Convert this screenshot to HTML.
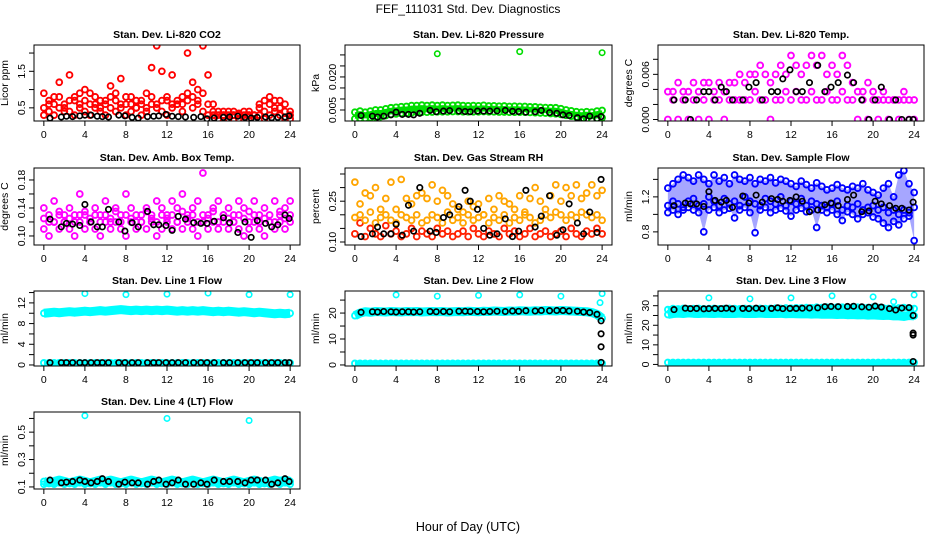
<!DOCTYPE html>
<html><head><meta charset="utf-8"><style>
html,body{margin:0;padding:0;background:#fff}
svg{display:block;font-family:"Liberation Sans",sans-serif}
</style></head><body>
<svg id="c" width="936" height="540" viewBox="0 0 936 540">
<text x="468" y="13" text-anchor="middle" font-size="12">FEF_111031  Std. Dev. Diagnostics</text>
<text x="468" y="531" text-anchor="middle" font-size="12.5">Hour of Day (UTC)</text>
</svg>
<script>
const hours=[0,0.5,1,1.5,2,2.5,3,3.5,4,4.5,5,5.5,6,6.5,7,7.5,8,8.5,9,9.5,10,10.5,11,11.5,12,12.5,13,13.5,14,14.5,15,15.5,16,16.5,17,17.5,18,18.5,19,19.5,20,20.5,21,21.5,22,22.5,23,23.5,24];
const blackHours=[0.6,1.7,2.2,2.8,3.5,4.0,4.6,5.2,5.7,6.3,7.3,7.9,8.6,9.2,10.1,10.7,11.2,11.9,12.5,13.1,13.8,14.6,15.3,15.9,16.6,17.5,18.1,18.9,19.6,20.2,20.8,21.6,22.2,22.8,23.5,23.9];
const xTicks=[0,4,8,12,16,20,24];

const co2A=[0.9,0.6,0.8,1.2,0.5,1.4,0.7,0.9,1.0,0.6,0.8,0.5,0.7,1.1,0.9,1.3,0.6,0.8,0.5,0.7,0.9,1.6,2.2,1.5,0.7,1.4,0.6,0.8,2.0,1.2,1.0,2.2,1.4,0.6,0.4,0.3,0.4,0.3,0.3,0.4,0.3,0.3,0.6,0.7,0.8,0.5,0.7,0.6,0.4];
const co2B=[0.3,0.4,0.3,0.5,0.6,0.4,0.3,0.5,0.4,0.3,0.6,0.4,0.3,0.5,0.4,0.6,0.3,0.4,0.5,0.3,0.4,0.6,0.5,0.4,0.3,0.5,0.6,0.4,0.7,0.5,0.6,0.4,0.3,0.3,0.2,0.3,0.2,0.3,0.2,0.2,0.3,0.2,0.3,0.2,0.3,0.4,0.3,0.2,0.2];
const co2C=[0.5,0.7,0.6,0.8,0.4,0.7,0.8,0.6,0.7,0.9,0.5,0.7,0.6,0.8,0.7,0.5,0.8,0.6,0.7,0.6,0.5,0.8,0.6,0.7,0.8,0.6,0.7,0.6,0.9,0.8,0.7,0.9,0.6,0.4,0.3,0.4,0.3,0.4,0.35,0.3,0.4,0.3,0.5,0.4,0.6,0.7,0.5,0.4,0.3];
const co2Black=[0.22,0.25,0.27,0.26,0.28,0.3,0.3,0.27,0.26,0.25,0.3,0.28,0.24,0.22,0.26,0.27,0.28,0.32,0.27,0.26,0.25,0.24,0.26,0.2,0.22,0.24,0.25,0.27,0.24,0.22,0.24,0.25,0.23,0.24,0.25,0.28];

const presA=[0.004,0.0045,0.004,0.0045,0.005,0.005,0.0055,0.006,0.0062,0.0065,0.0066,0.007,0.007,0.0072,0.007,0.0072,0.007,0.0072,0.007,0.0071,0.0072,0.007,0.0069,0.007,0.0069,0.0071,0.0068,0.0069,0.0067,0.0068,0.0066,0.0067,0.0066,0.0066,0.0064,0.0064,0.0062,0.0061,0.006,0.006,0.0056,0.005,0.0046,0.0042,0.004,0.0042,0.004,0.0045,0.0048];
const presB=[0.001,0.0012,0.0012,0.0015,0.0018,0.002,0.0025,0.003,0.0032,0.0035,0.0035,0.0038,0.004,0.004,0.004,0.0041,0.0042,0.0042,0.0042,0.0043,0.0043,0.0042,0.0042,0.0042,0.0042,0.0043,0.0042,0.0042,0.0041,0.0041,0.004,0.004,0.004,0.004,0.0039,0.0038,0.0037,0.0036,0.0034,0.0033,0.003,0.0026,0.0022,0.0018,0.0012,0.001,0.0008,0.0012,0.0015];
const presOutHours=[8,16,24];
const presOut=[0.0305,0.0315,0.031];
const presBlack=[0.0025,0.0022,0.0018,0.0022,0.0028,0.004,0.003,0.003,0.0028,0.0035,0.0048,0.0042,0.0045,0.0047,0.0045,0.0043,0.0042,0.0045,0.0045,0.0045,0.0046,0.0048,0.0044,0.0043,0.004,0.0042,0.0048,0.0038,0.0035,0.0028,0.0025,0.0015,0.001,0.0022,0.001,0.002];

const tempA=[0.0037,0.0037,0.0049,0.0037,0.0037,0.0049,0.0037,0.0049,0.0049,0.0037,0.0049,0.0037,0.0049,0.0049,0.006,0.0049,0.006,0.006,0.0072,0.006,0.0049,0.006,0.0072,0.006,0.0085,0.0072,0.006,0.0072,0.0085,0.0072,0.0085,0.006,0.0072,0.006,0.0085,0.0072,0.0049,0.0037,0.0037,0.0049,0.0037,0.0026,0.0037,0.0026,0.0026,0.0026,0.0037,0.0026,0.0026];
const tempB=[0,0.0026,0,0.0026,0,0.0026,0,0.0026,0,0.0026,0.0026,0,0.0026,0.0026,0.0026,0.0026,0.0026,0.0037,0.0026,0.0026,0,0.0026,0.0026,0.0037,0.0026,0.0037,0.0026,0.0026,0.0037,0.0026,0.0026,0.0037,0.0026,0.0026,0.0037,0.0026,0.0026,0,0.0026,0,0.0026,0,0.0026,0,0.0026,0,0.0026,0,0];
const tempBlack=[0.0026,0.0026,0,0.0026,0.0037,0.0037,0.0026,0.0043,0.0037,0.0026,0.0026,0.0043,0.0049,0.0026,0.0037,0.0037,0.0054,0.0066,0.0037,0.0037,0.0049,0.0072,0.0037,0.0043,0.0049,0.0059,0.0049,0.0026,0,0.0026,0.0043,0,0.0026,0,0,0];

const ambA=[0.14,0.12,0.15,0.13,0.12,0.14,0.13,0.16,0.13,0.12,0.14,0.13,0.15,0.12,0.14,0.13,0.16,0.14,0.13,0.12,0.14,0.13,0.15,0.14,0.13,0.15,0.14,0.16,0.13,0.14,0.15,0.19,0.13,0.14,0.15,0.13,0.14,0.13,0.15,0.14,0.12,0.15,0.13,0.14,0.12,0.15,0.13,0.14,0.15];
const ambB=[0.11,0.1,0.12,0.11,0.12,0.11,0.1,0.12,0.11,0.12,0.11,0.1,0.12,0.11,0.12,0.11,0.1,0.12,0.11,0.12,0.11,0.12,0.1,0.11,0.12,0.11,0.12,0.11,0.12,0.11,0.1,0.12,0.11,0.12,0.11,0.12,0.11,0.12,0.11,0.1,0.11,0.12,0.11,0.1,0.12,0.11,0.12,0.11,0.12];
const ambC=[0.125,0.13,0.12,0.135,0.13,0.125,0.12,0.13,0.135,0.125,0.13,0.12,0.13,0.125,0.135,0.12,0.13,0.125,0.12,0.13,0.135,0.125,0.12,0.13,0.125,0.13,0.12,0.135,0.125,0.13,0.12,0.13,0.125,0.135,0.12,0.13,0.125,0.12,0.13,0.125,0.135,0.13,0.12,0.125,0.13,0.12,0.135,0.125,0.13];
const ambBlack=[0.124,0.113,0.118,0.117,0.115,0.145,0.12,0.113,0.113,0.138,0.12,0.107,0.119,0.113,0.135,0.116,0.116,0.115,0.108,0.128,0.124,0.119,0.118,0.118,0.121,0.126,0.119,0.105,0.12,0.098,0.122,0.118,0.113,0.116,0.13,0.125];

const rhA=[0.32,0.24,0.28,0.27,0.3,0.22,0.26,0.32,0.22,0.33,0.26,0.24,0.27,0.28,0.26,0.31,0.25,0.29,0.27,0.24,0.22,0.21,0.25,0.23,0.24,0.2,0.26,0.22,0.27,0.25,0.24,0.22,0.27,0.21,0.26,0.3,0.25,0.22,0.27,0.31,0.25,0.3,0.27,0.31,0.26,0.28,0.31,0.27,0.29];
const rhB=[0.13,0.17,0.12,0.15,0.13,0.12,0.16,0.13,0.14,0.12,0.13,0.15,0.12,0.14,0.13,0.12,0.15,0.13,0.14,0.12,0.13,0.14,0.12,0.15,0.13,0.12,0.14,0.13,0.12,0.15,0.13,0.14,0.12,0.13,0.15,0.12,0.13,0.14,0.12,0.13,0.14,0.12,0.15,0.13,0.12,0.14,0.13,0.15,0.13];
const rhC=[0.19,0.2,0.18,0.21,0.17,0.19,0.2,0.18,0.17,0.2,0.19,0.18,0.2,0.17,0.18,0.2,0.19,0.17,0.21,0.18,0.19,0.17,0.2,0.18,0.19,0.2,0.17,0.19,0.18,0.2,0.17,0.19,0.18,0.2,0.19,0.17,0.18,0.2,0.19,0.21,0.2,0.18,0.2,0.19,0.21,0.2,0.19,0.2,0.18];
const rhBlack=[0.12,0.13,0.155,0.13,0.13,0.165,0.125,0.235,0.14,0.3,0.14,0.135,0.19,0.2,0.23,0.29,0.25,0.22,0.15,0.125,0.13,0.185,0.12,0.14,0.29,0.155,0.195,0.27,0.125,0.145,0.24,0.17,0.13,0.21,0.135,0.33];

const flowA=[1.3,1.35,1.4,1.45,1.42,1.38,1.45,1.4,1.35,1.45,1.38,1.42,1.35,1.45,1.4,1.38,1.42,1.35,1.4,1.38,1.42,1.36,1.4,1.38,1.35,1.32,1.38,1.34,1.3,1.36,1.32,1.28,1.3,1.34,1.3,1.28,1.32,1.3,1.35,1.28,1.25,1.22,1.3,1.35,1.2,1.45,1.5,1.35,1.25];
const flowB=[1.1,1.15,1.12,1.08,1.15,1.18,1.1,1.12,1.2,1.15,1.1,1.18,1.12,1.15,1.1,1.2,1.15,1.12,1.1,1.18,1.15,1.12,1.2,1.1,1.15,1.12,1.18,1.1,1.15,1.12,1.1,1.08,1.12,1.15,1.05,1.1,1.08,1.12,1.05,1.08,1.1,1.05,1.08,1.02,1.05,1.0,1.05,1.02,1.08];
const flowC=[1.02,1.05,1.0,1.05,1.08,1.05,1.02,0.8,1.05,1.08,1.02,1.05,1.07,0.96,1.05,1.08,1.02,0.79,1.05,1.08,1.02,1.05,1.07,1.04,0.98,1.05,1.07,1.03,1.05,0.85,1.05,1.02,1.05,1.0,0.93,1.03,1.0,0.95,1.0,1.02,0.97,0.95,0.9,0.85,0.92,0.88,0.95,0.98,0.7];
const flowBlack=[1.1,1.13,1.12,1.12,1.09,1.26,1.16,1.14,1.16,1.08,1.21,1.13,1.22,1.14,1.18,1.17,1.15,1.16,1.2,1.15,1.03,1.05,1.11,1.13,1.1,1.17,1.22,1.03,1.04,1.15,1.12,1.1,1.07,1.07,1.05,1.14];

const l1A=[10,10.1,10.2,10.1,10.2,10.3,10.2,10.3,10.4,10.3,10.4,10.5,10.4,10.5,10.6,10.7,10.6,10.5,10.6,10.5,10.6,10.5,10.6,10.5,10.6,10.5,10.4,10.5,10.4,10.5,10.4,10.5,10.4,10.3,10.4,10.3,10.4,10.3,10.2,10.3,10.2,10.1,10.2,10.1,10,9.9,10,9.9,10];
const l1B=[0.4,0.4,0.4,0.4,0.4,0.4,0.4,0.4,0.4,0.4,0.4,0.4,0.4,0.4,0.4,0.4,0.4,0.4,0.4,0.4,0.4,0.4,0.4,0.4,0.4,0.4,0.4,0.4,0.4,0.4,0.4,0.4,0.4,0.4,0.4,0.4,0.4,0.4,0.4,0.4,0.4,0.4,0.4,0.4,0.4,0.4,0.4,0.4,0.4];
const l1OutHours=[4,8,12,16,20,24];
const l1Out=[13.8,13.6,13.7,13.9,13.6,13.6];
const l1Black=[0.45,0.45,0.45,0.45,0.45,0.45,0.45,0.45,0.45,0.45,0.45,0.45,0.45,0.45,0.45,0.45,0.45,0.45,0.45,0.45,0.45,0.45,0.45,0.45,0.45,0.45,0.45,0.45,0.45,0.45,0.45,0.45,0.45,0.45,0.45,0.45];

const l2A=[19,20,20.5,20.3,20.6,20.5,20.4,20.6,20.5,20.4,20.6,20.5,20.6,20.4,20.5,20.6,20.5,20.6,20.4,20.5,20.6,20.5,20.7,20.6,20.5,20.7,20.6,20.8,20.7,20.6,20.8,20.7,20.9,20.8,20.7,20.9,20.8,21,20.9,20.8,21,20.9,20.8,20.7,20.6,20.5,20.2,19.5,18];
const l2B=[0.6,0.6,0.6,0.6,0.6,0.6,0.6,0.6,0.6,0.6,0.6,0.6,0.6,0.6,0.6,0.6,0.6,0.6,0.6,0.6,0.6,0.6,0.6,0.6,0.6,0.6,0.6,0.6,0.6,0.6,0.6,0.6,0.6,0.6,0.6,0.6,0.6,0.6,0.6,0.6,0.6,0.6,0.6,0.6,0.6,0.6,0.6,0.6,0.6];
const l2OutHours=[4,8,12,16,20,24,23.8];
const l2Out=[27,26.5,26.8,27,26.5,27.5,24];
const l2Black=[20.3,20.5,20.4,20.6,20.5,20.4,20.5,20.5,20.4,20.5,20.6,20.5,20.6,20.5,20.7,20.7,20.6,20.6,20.5,20.6,20.7,20.6,20.8,20.7,20.9,20.8,21,20.9,21,21,20.8,20.7,20.4,20.2,19.5,12];
const l2BlackOutHours=[23.9,23.9,23.9];
const l2BlackOut=[17,7,1];

const l3A=[25.5,26,26.2,26,26.3,26.1,26,26.2,26.1,26,26.2,26,26.1,26,26.2,26,26.1,26,26.2,26,26.1,26,26.1,25.9,26,25.9,25.8,25.9,25.7,25.8,25.6,25.7,25.6,25.5,25.6,25.4,25.5,25.3,25.4,25.2,25.3,25.1,25,25.1,24.8,24.8,24.5,25,24.8];
const l3A2=[28,28.5,28.3,28.6,28.4,28.5,28.6,28.4,28.5,28.6,28.4,28.5,28.6,28.5,28.4,28.6,28.5,28.4,28.6,28.5,28.6,28.7,28.6,28.8,28.7,28.9,28.8,29,28.9,29.2,29,29.2,29.1,29.3,29.2,29.1,29.3,29.2,29.1,29,29.2,29,28.8,28.6,28.5,28.8,29,28.8,28.5];
const l3B=[1,1,1,1,1,1,1,1,1,1,1,1,1,1,1,1,1,1,1,1,1,1,1,1,1,1,1,1,1,1,1,1,1,1,1,1,1,1,1,1,1,1,1,1,1,1,1,1,1];
const l3OutHours=[4,8,12,16,20,22,24];
const l3Out=[34,33.5,34,35,34.5,32,35.5];
const l3Black=[28,28.7,28.5,28.6,28.4,28.5,28.6,28.5,28.7,28.4,28.6,28.5,28.7,28.5,28.6,28.9,28.5,28.6,28.6,28.7,28.8,28.9,29.5,29.6,29.5,29.6,29.7,29.4,29.2,29.8,29.3,28.5,27.8,28.8,29,25];
const l3BlackOutHours=[23.9,23.9,23.9];
const l3BlackOut=[16,15,1.5];

const l4A=[0.14,0.13,0.14,0.15,0.14,0.13,0.14,0.15,0.14,0.13,0.14,0.15,0.14,0.15,0.14,0.13,0.14,0.15,0.14,0.13,0.14,0.15,0.14,0.13,0.14,0.15,0.14,0.13,0.14,0.15,0.14,0.13,0.14,0.15,0.14,0.13,0.14,0.15,0.14,0.13,0.14,0.15,0.14,0.13,0.14,0.15,0.14,0.15,0.14];
const l4B=[0.12,0.13,0.12,0.13,0.12,0.13,0.12,0.13,0.12,0.13,0.12,0.13,0.12,0.13,0.12,0.13,0.12,0.13,0.12,0.13,0.12,0.13,0.12,0.13,0.12,0.13,0.12,0.13,0.12,0.13,0.12,0.13,0.12,0.13,0.12,0.13,0.12,0.13,0.12,0.13,0.12,0.13,0.12,0.13,0.12,0.13,0.12,0.13,0.12];
const l4OutHours=[4,12,20];
const l4Out=[0.62,0.6,0.585];
const l4Black=[0.15,0.13,0.135,0.14,0.15,0.14,0.13,0.14,0.16,0.14,0.12,0.135,0.13,0.13,0.12,0.14,0.15,0.12,0.13,0.15,0.12,0.12,0.13,0.12,0.15,0.14,0.14,0.14,0.13,0.15,0.15,0.15,0.12,0.13,0.16,0.14];

const NS='http://www.w3.org/2000/svg';
const svg=document.getElementById('c');
function mk(tag,attrs,parent){const e=document.createElementNS(NS,tag);for(const k in attrs)e.setAttribute(k,attrs[k]);(parent||svg).appendChild(e);return e;}

const cols=[{x0:34,x1:300},{x0:345,x1:612},{x0:658,x1:924}];
const rows=[{y0:45,y1:121},{y0:168,y1:245},{y0:291,y1:366},{y0:412,y1:489}];

const panels=[
 {id:'co2',title:'Stan. Dev. Li-820 CO2',c:0,r:0,ylab:'Licor ppm',ymin:0.14,ymax:2.22,ticks:[0.5,1,1.5,2],labels:['0.5','','1.5',''],color:'#ff0000',series:[co2A,co2B,co2C],black:co2Black},
 {id:'pressure',title:'Stan. Dev. Li-820 Pressure',c:1,r:0,ylab:'kPa',ymin:0,ymax:0.0345,ticks:[0.005,0.01,0.015,0.02,0.025,0.03],labels:['0.005','','','0.020','',''],color:'#00dd00',series:[presA,presB],band:'fill',fop:'1',outH:presOutHours,out:presOut,black:presBlack},
 {id:'li820-temp',title:'Stan. Dev. Li-820 Temp.',c:2,r:0,ylab:'degrees C',ymin:-0.0002,ymax:0.0099,ticks:[0,0.002,0.004,0.006,0.008],labels:['0.000','','','0.006',''],color:'#ff00ff',series:[tempA,tempB],black:tempBlack},
 {id:'amb-box-temp',title:'Stan. Dev. Amb. Box Temp.',c:0,r:1,ylab:'degrees C',ymin:0.0871,ymax:0.1971,ticks:[0.1,0.12,0.14,0.16,0.18],labels:['0.10','','0.14','','0.18'],color:'#ff00ff',series:[ambA,ambB,ambC],black:ambBlack},
 {id:'gas-rh',title:'Stan. Dev. Gas Stream RH',c:1,r:1,ylab:'percent',ymin:0.089,ymax:0.372,ticks:[0.1,0.15,0.2,0.25,0.3,0.35],labels:['0.10','','','0.25','',''],color:'#ffa500',color2:'#ff2000',series:[rhA,rhB,rhC],black:rhBlack},
 {id:'sample-flow',title:'Stan. Dev. Sample Flow',c:2,r:1,ylab:'ml/min',ymin:0.65,ymax:1.53,ticks:[0.8,1.0,1.2,1.4],labels:['0.8','','1.2',''],color:'#0000ff',series:[flowA,flowB,flowC],band:'fill12',fop:'0.35',black:flowBlack},
 {id:'line1-flow',title:'Stan. Dev. Line 1 Flow',c:0,r:2,ylab:'ml/min',ymin:-0.2,ymax:14.3,ticks:[0,2,4,6,8,10,12,14],labels:['0','','4','','8','','12',''],color:'#00ffff',series:[l1A,l1B],band:'line',outH:l1OutHours,out:l1Out,black:l1Black},
 {id:'line2-flow',title:'Stan. Dev. Line 2 Flow',c:1,r:2,ylab:'ml/min',ymin:-0.4,ymax:28.5,ticks:[0,5,10,15,20,25],labels:['0','','10','','20',''],color:'#00ffff',series:[l2A,l2B],band:'line',outH:l2OutHours,out:l2Out,black:l2Black,bOutH:l2BlackOutHours,bOut:l2BlackOut},
 {id:'line3-flow',title:'Stan. Dev. Line 3 Flow',c:2,r:2,ylab:'ml/min',ymin:-0.8,ymax:37.5,ticks:[0,5,10,15,20,25,30,35],labels:['0','','10','','20','','30',''],color:'#00ffff',series:[l3A,l3A2,l3B],band:'line',outH:l3OutHours,out:l3Out,black:l3Black,bOutH:l3BlackOutHours,bOut:l3BlackOut},
 {id:'line4-flow',title:'Stan. Dev. Line 4 (LT) Flow',c:0,r:3,ylab:'ml/min',ymin:0.085,ymax:0.647,ticks:[0.1,0.2,0.3,0.4,0.5,0.6],labels:['0.1','','0.3','','0.5',''],color:'#00ffff',series:[l4A,l4B],band:'line',outH:l4OutHours,out:l4Out,black:l4Black}
];

panels.forEach(p=>{
  const C=cols[p.c],R=rows[p.r];
  const sx=v=>C.x0+(v+0.96)/25.92*(C.x1-C.x0);
  const sy=v=>R.y1-(v-p.ymin)/(p.ymax-p.ymin)*(R.y1-R.y0);
  const g=mk('g',{});
  
  
  const t=mk('text',{x:(C.x0+C.x1)/2,y:R.y0-7,'text-anchor':'middle','font-size':'10.5','font-weight':'bold'},g);
  t.textContent=p.title;
  
  
  const cx=C.x0-26,cy=(R.y0+R.y1)/2;
  const yl=mk('text',{x:cx,y:cy,'text-anchor':'middle','font-size':'10.5',transform:`rotate(-90 ${cx} ${cy})`},g);
  yl.textContent=p.ylab;
  
  
  const clipId='clip-'+p.id;
  const cp=mk('clipPath',{id:clipId},g);
  mk('rect',{x:C.x0,y:R.y0,width:C.x1-C.x0,height:R.y1-R.y0},cp);
  const plot=mk('g',{'clip-path':`url(#${clipId})`},g);
  
  
  const col=p.color;
  if(p.band==='fill'||p.band==='fill12'){
    const a=p.series[0],b=p.band==='fill'?p.series[1]:p.series[2];
    const pts=hours.map((h,i)=>sx(h)+','+sy(a[i])).concat(hours.slice().reverse().map((h,j)=>{const i=hours.length-1-j;return sx(h)+','+sy(b[i]);}));
    const poly=mk('polygon',{points:pts.join(' '),fill:col,'fill-opacity':p.fop,stroke:'none'},plot);
    
    
  }
  if(p.band==='line'){
    p.series.forEach((s,si)=>{
      const pl=mk('polyline',{points:hours.map((h,i)=>sx(h)+','+sy(s[i])).join(' '),fill:'none',stroke:col,'stroke-width':si===0?'9':'6','stroke-linejoin':'round'},plot);
      
      
    });
  }
  p.series.forEach((s,si)=>{
    hours.forEach((h,i)=>{
      const m=mk('circle',{cx:sx(h),cy:sy(s[i]),r:2.9,fill:'none',stroke:(p.color2&&si===1)?p.color2:col,'stroke-width':'1.9'},plot);
      
      
    });
  });
  if(p.out){p.outH.forEach((h,i)=>{
    const m=mk('circle',{cx:sx(h),cy:sy(p.out[i]),r:2.7,fill:'none',stroke:col,'stroke-width':'1.6'},plot);
    
    
  });}
  blackHours.forEach((h,i)=>{
    const m=mk('circle',{cx:sx(h),cy:sy(p.black[i]),r:2.7,fill:'none',stroke:'#000','stroke-width':'1.7'},plot);
    
    
  });
  if(p.bOut){p.bOutH.forEach((h,i)=>{
    const m=mk('circle',{cx:sx(h),cy:sy(p.bOut[i]),r:2.7,fill:'none',stroke:'#000','stroke-width':'1.7'},plot);
    
    
  });}
  const box=mk('rect',{x:C.x0,y:R.y0,width:C.x1-C.x0,height:R.y1-R.y0,fill:'none',stroke:'#000','stroke-width':'1'},g);
  
  
  xTicks.forEach(v=>{
    const x=sx(v);
    const tk=mk('line',{x1:x,x2:x,y1:R.y1,y2:R.y1+5,stroke:'#000'},g);
    
    
    const tl=mk('text',{x:x,y:R.y1+17,'text-anchor':'middle','font-size':'10.5'},g);
    tl.textContent=String(v);
    
    
  });
  p.ticks.forEach((v,i)=>{
    const y=sy(v);
    const tk=mk('line',{x1:C.x0-5,x2:C.x0,y1:y,y2:y,stroke:'#000'},g);
    
    
    if(p.labels[i]){
      const lx=C.x0-9;
      const tl=mk('text',{x:lx,y:y,'text-anchor':'middle','font-size':'10.5',transform:`rotate(-90 ${lx} ${y})`},g);
      tl.textContent=p.labels[i];
      
      
    }
  });
});
</script>
</body></html>
